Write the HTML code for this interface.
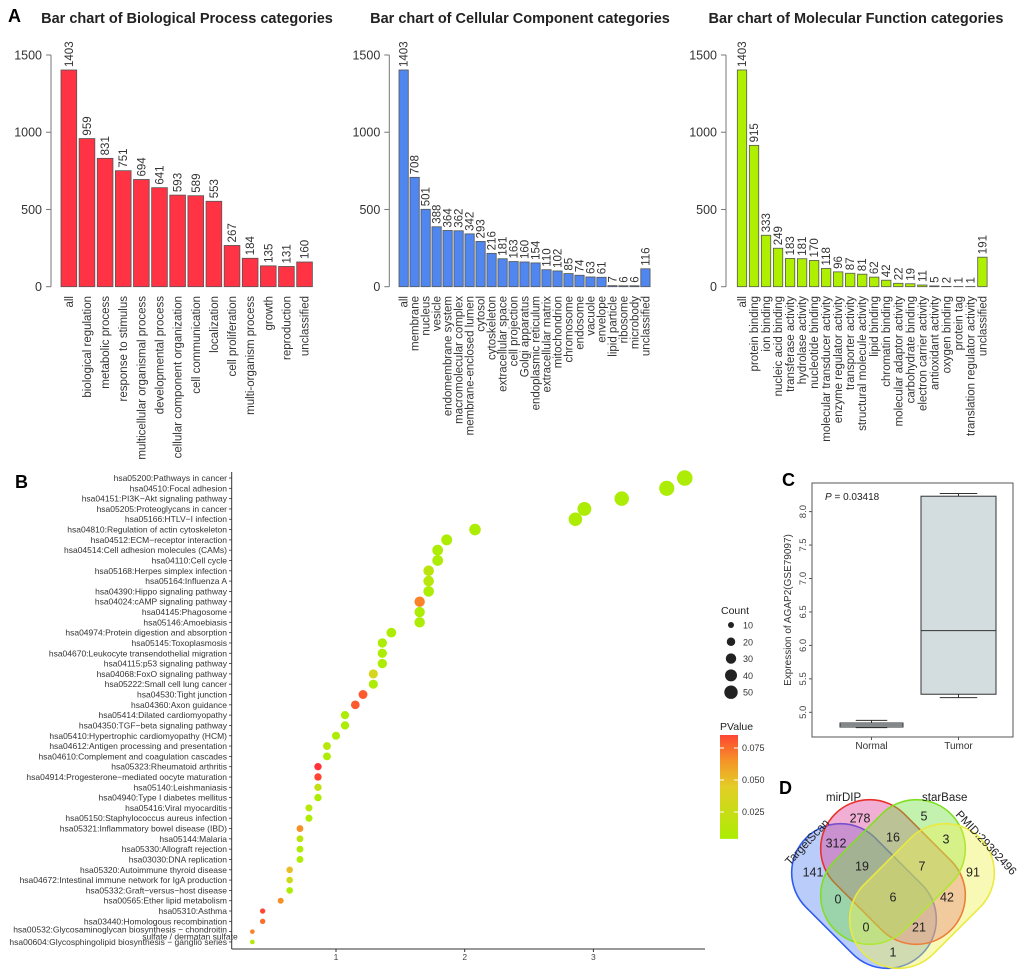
<!DOCTYPE html>
<html><head><meta charset="utf-8">
<style>
body{margin:0;background:#fff;}
svg{display:block;font-family:"Liberation Sans",Arial,sans-serif;}
</style></head>
<body>
<svg id="fig" width="1020" height="973" viewBox="0 0 1020 973" xmlns="http://www.w3.org/2000/svg">
<text x="8" y="22" font-size="18" font-weight="bold">A</text>
<text x="15" y="488" font-size="18" font-weight="bold">B</text>
<text x="782" y="486" font-size="18" font-weight="bold">C</text>
<text x="779" y="794" font-size="18" font-weight="bold">D</text>
<g id="gA"></g><g id="gB"></g><g id="gC"></g><g id="gD"></g>
</svg>
<script>
// ---------- Panel A data ----------
const bpLabels = ["all","biological regulation","metabolic process","response to stimulus","multicellular organismal process","developmental process","cellular component organization","cell communication","localization","cell proliferation","multi-organism process","growth","reproduction","unclassified"];
const bpValues = [1403,959,831,751,694,641,593,589,553,267,184,135,131,160];
const ccLabels = ["all","membrane","nucleus","vesicle","endomembrane system","macromolecular complex","membrane-enclosed lumen","cytosol","cytoskeleton","extracellular space","cell projection","Golgi apparatus","endoplasmic reticulum","extracellular matrix","mitochondrion","chromosome","endosome","vacuole","envelope","lipid particle","ribosome","microbody","unclassified"];
const ccValues = [1403,708,501,388,364,362,342,293,216,181,163,160,154,110,102,85,74,63,61,7,6,6,116];
const mfLabels = ["all","protein binding","ion binding","nucleic acid binding","transferase activity","hydrolase activity","nucleotide binding","molecular transducer activity","enzyme regulator activity","transporter activity","structural molecule activity","lipid binding","chromatin binding","molecular adaptor activity","carbohydrate binding","electron carrier activity","antioxidant activity","oxygen binding","protein tag","translation regulator activity","unclassified"];
const mfValues = [1403,915,333,249,183,181,170,118,96,87,81,62,42,22,19,11,5,2,1,1,191];
const barTicks = [0,500,1000,1500];

// ---------- Panel B data ----------
const keggTerms = ["hsa05200:Pathways in cancer","hsa04510:Focal adhesion","hsa04151:PI3K\u2212Akt signaling pathway","hsa05205:Proteoglycans in cancer","hsa05166:HTLV\u2212I infection","hsa04810:Regulation of actin cytoskeleton","hsa04512:ECM\u2212receptor interaction","hsa04514:Cell adhesion molecules (CAMs)","hsa04110:Cell cycle","hsa05168:Herpes simplex infection","hsa05164:Influenza A","hsa04390:Hippo signaling pathway","hsa04024:cAMP signaling pathway","hsa04145:Phagosome","hsa05146:Amoebiasis","hsa04974:Protein digestion and absorption","hsa05145:Toxoplasmosis","hsa04670:Leukocyte transendothelial migration","hsa04115:p53 signaling pathway","hsa04068:FoxO signaling pathway","hsa05222:Small cell lung cancer","hsa04530:Tight junction","hsa04360:Axon guidance","hsa05414:Dilated cardiomyopathy","hsa04350:TGF\u2212beta signaling pathway","hsa05410:Hypertrophic cardiomyopathy (HCM)","hsa04612:Antigen processing and presentation","hsa04610:Complement and coagulation cascades","hsa05323:Rheumatoid arthritis","hsa04914:Progesterone\u2212mediated oocyte maturation","hsa05140:Leishmaniasis","hsa04940:Type I diabetes mellitus","hsa05416:Viral myocarditis","hsa05150:Staphylococcus aureus infection","hsa05321:Inflammatory bowel disease (IBD)","hsa05144:Malaria","hsa05330:Allograft rejection","hsa03030:DNA replication","hsa05320:Autoimmune thyroid disease","hsa04672:Intestinal immune network for IgA production","hsa05332:Graft\u2212versus\u2212host disease","hsa00565:Ether lipid metabolism","hsa05310:Asthma","hsa03440:Homologous recombination","hsa00532:Glycosaminoglycan biosynthesis \u2212 chondroitin|sulfate / dermatan sulfate","hsa00604:Glycosphingolipid biosynthesis \u2212 ganglio series"];
const keggX = [3.71,3.57,3.22,2.93,2.86,2.08,1.86,1.79,1.79,1.72,1.72,1.72,1.65,1.65,1.65,1.43,1.36,1.36,1.36,1.29,1.29,1.21,1.15,1.07,1.07,1.00,0.93,0.93,0.86,0.86,0.86,0.86,0.79,0.79,0.72,0.72,0.72,0.72,0.64,0.64,0.64,0.57,0.43,0.43,0.35,0.35];
const keggCount = [67,64,58,53,51,37,33,32,32,31,31,31,30,30,30,26,24,24,24,23,23,22,21,19,19,18,17,17,15,15,15,15,14,14,13,13,13,13,12,12,12,10,8,8,6,6];
const keggP = [0.005,0.005,0.005,0.005,0.005,0.005,0.005,0.005,0.005,0.015,0.012,0.005,0.07,0.005,0.005,0.005,0.005,0.005,0.005,0.035,0.005,0.08,0.08,0.005,0.005,0.005,0.012,0.005,0.09,0.085,0.02,0.005,0.012,0.005,0.065,0.015,0.005,0.005,0.05,0.03,0.005,0.065,0.085,0.075,0.07,0.008];
const keggXTicks = [1,2,3];
const countLegend = [10,20,30,40,50];
const pLegend = [0.075,0.050,0.025];

// ---------- Panel C data ----------
const boxGroups = ["Normal","Tumor"];
const boxLow = [4.77,5.22];
const boxQ1 = [4.78,5.27];
const boxMed = [4.81,6.22];
const boxQ3 = [4.84,8.23];
const boxHigh = [4.88,8.27];
const boxTicks = [5.0,5.5,6.0,6.5,7.0,7.5,8.0];

// ---------- Panel D data ----------
const vennSets = ["TargetScan","mirDIP","starBase","PMID:29362496"];
const vennCounts = [278,5,312,16,3,141,19,7,91,0,6,42,0,21,1];

const NS = "http://www.w3.org/2000/svg";
function mk(parent, tag, attrs, text){
  const e = document.createElementNS(NS, tag);
  for (const k in attrs) e.setAttribute(k, attrs[k]);
  if (text !== undefined) e.textContent = text;
  parent.appendChild(e);
  return e;
}

// ---------- Panel A ----------
const gA = document.getElementById('gA');
function barChart(name, labels, values, axisX, firstX, pitch, bw, color, title, titleX){
  const g = mk(gA, 'g', {});
  
  
  const y0 = 286.7, y1500 = 55;
  const y = v => y0 - v * (y0 - y1500) / 1500;
  const t = mk(g, 'text', {x:titleX, y:23, 'font-size':14.5, 'font-weight':'bold', 'text-anchor':'middle', fill:'#222'}, title);
  
  
  const ax = mk(g, 'line', {x1:axisX, x2:axisX, y1:y(0), y2:y(1500), stroke:'#777', 'stroke-width':1});
  
  
  barTicks.forEach(v => {
    mk(g, 'line', {x1:axisX-5, x2:axisX, y1:y(v), y2:y(v), stroke:'#777'});
    const tl = mk(g, 'text', {x:axisX-9, y:y(v)+4.5, 'font-size':12.5, 'text-anchor':'end', fill:'#333'}, String(v));
    
    
  });
  values.forEach((v, i) => {
    const x = firstX + i * pitch;
    const b = mk(g, 'rect', {x:x, y:y(v), width:bw, height:y(0)-y(v), fill:color, stroke:'#555', 'stroke-width':0.8});
    
    
    const cx = x + bw/2 + 4;
    const vl = mk(g, 'text', {transform:`translate(${cx},${y(v)-3}) rotate(-90)`, 'font-size':11.5, fill:'#333'}, String(v));
    
    
    const xl = mk(g, 'text', {transform:`translate(${cx},296) rotate(-90)`, 'font-size':11.5, 'text-anchor':'end', fill:'#333'}, labels[i]);
    
    
  });
}
barChart('bp-bar-chart', bpLabels, bpValues, 51, 61, 18.13, 15.7, '#ff3344', 'Bar chart of Biological Process categories', 187);
barChart('cc-bar-chart', ccLabels, ccValues, 389.3, 399, 10.99, 9.3, '#4f86f0', 'Bar chart of Cellular Component categories', 520);
barChart('mf-bar-chart', mfLabels, mfValues, 726, 737.3, 12.02, 9.4, '#aef000', 'Bar chart of Molecular Function categories', 856);

// ---------- Panel B ----------
const gB = document.getElementById('gB');


const bx = v => 207.3 + v * 128.7;
const rowY = i => 478 + i * 10.31;
const rOf = c => 0.95 * Math.sqrt(c);
function pColor(p){
  const stops = [[0,166,240,0],[0.045,228,205,40],[0.07,250,130,40],[0.09,255,50,55]];
  p = Math.max(0, Math.min(0.09, p));
  for (let k=0;k<stops.length-1;k++){
    const a=stops[k], b=stops[k+1];
    if (p<=b[0]){ const t=(p-a[0])/(b[0]-a[0]);
      return `rgb(${Math.round(a[1]+t*(b[1]-a[1]))},${Math.round(a[2]+t*(b[2]-a[2]))},${Math.round(a[3]+t*(b[3]-a[3]))})`; }
  }
  return 'rgb(255,50,55)';
}
mk(gB, 'line', {x1:231.7, x2:231.7, y1:472, y2:949, stroke:'#333', 'stroke-width':1});
mk(gB, 'line', {x1:231.7, x2:705, y1:949, y2:949, stroke:'#333', 'stroke-width':1});
keggXTicks.forEach(v => {
  mk(gB, 'line', {x1:bx(v), x2:bx(v), y1:949, y2:952, stroke:'#333'});
  const tl = mk(gB, 'text', {x:bx(v), y:960, 'font-size':8.5, 'text-anchor':'middle', fill:'#444'}, String(v));
  
  
});
keggTerms.forEach((term, i) => {
  const y = rowY(i);
  mk(gB, 'line', {x1:229, x2:231.7, y1:y, y2:y, stroke:'#333', 'stroke-width':0.8});
  const parts = term.split('|');
  if (parts.length === 1) {
    const tl = mk(gB, 'text', {x:227, y:y+3, 'font-size':8.5, 'text-anchor':'end', fill:'#333'}, term);
    
    
  } else {
    const tl = mk(gB, 'text', {x:227, y:y+1, 'font-size':8.5, 'text-anchor':'end', fill:'#333'}, parts[0]);
    
    
    const t2 = mk(gB, 'text', {x:190, y:y+8, 'font-size':8.5, 'text-anchor':'middle', fill:'#333'}, parts[1]);
    
    
  }
  const d = mk(gB, 'circle', {cx:bx(keggX[i]), cy:y, r:rOf(keggCount[i]), fill:pColor(keggP[i])});
  
  
});
// legends
const lc = mk(gB, 'text', {x:721, y:614, 'font-size':10.5, fill:'#222'}, 'Count');


countLegend.forEach((c, k) => {
  const y = 625 + k * 16.8;
  const ci = mk(gB, 'circle', {cx:731, cy:y, r:rOf(c), fill:'#222'});
  
  
  mk(gB, 'text', {x:743, y:y+3.5, 'font-size':9, fill:'#333'}, String(c));
});
const lp = mk(gB, 'text', {x:720, y:730, 'font-size':10.5, fill:'#222'}, 'PValue');


const defs = mk(gB, 'defs', {});
const lg = mk(defs, 'linearGradient', {id:'pg', x1:0, y1:0, x2:0, y2:1});
[[0,0.085],[0.25,0.064],[0.5,0.044],[0.75,0.024],[1,0.004]].forEach(s => mk(lg, 'stop', {offset:s[0], 'stop-color':pColor(s[1])}));
const py = p => 748 + (0.075 - p) / 0.025 * 32;
const bar = mk(gB, 'rect', {x:720, y:735, width:18, height:py(0.004)-735, fill:'url(#pg)'});


pLegend.forEach(p => {
  mk(gB, 'line', {x1:720, x2:724, y1:py(p), y2:py(p), stroke:'#fff'});
  mk(gB, 'line', {x1:734, x2:738, y1:py(p), y2:py(p), stroke:'#fff'});
  mk(gB, 'text', {x:742, y:py(p)+3, 'font-size':9, fill:'#333'}, p.toFixed(3));
});

// ---------- Panel C ----------
const gC = document.getElementById('gC');


const cy = v => 712.3 - (v - 5) * 66.9;
const groupX = [871.5, 958.5];
const boxW = [63, 75];
mk(gC, 'rect', {x:812, y:483, width:201, height:254, fill:'none', stroke:'#555', 'stroke-width':1});
boxTicks.forEach(v => {
  mk(gC, 'line', {x1:809, x2:812, y1:cy(v), y2:cy(v), stroke:'#555'});
  const tl = mk(gC, 'text', {transform:`translate(${806},${cy(v)}) rotate(-90)`, 'font-size':9.5, 'text-anchor':'middle', fill:'#444'}, v.toFixed(1));
  
  
});
const yl = mk(gC, 'text', {transform:'translate(791,610) rotate(-90)', 'font-size':10, 'text-anchor':'middle', fill:'#333'}, 'Expression of AGAP2(GSE79097)');


const pt = mk(gC, 'text', {x:825, y:500, 'font-size':10, fill:'#222'});
mk(pt, 'tspan', {'font-style':'italic'}, 'P');
mk(pt, 'tspan', {}, ' = 0.03418');


boxGroups.forEach((gname, i) => {
  const cx = groupX[i], w = boxW[i];
  mk(gC, 'line', {x1:cx, x2:cx, y1:cy(boxHigh[i]), y2:cy(boxQ3[i]), stroke:'#333'});
  mk(gC, 'line', {x1:cx, x2:cx, y1:cy(boxQ1[i]), y2:cy(boxLow[i]), stroke:'#333'});
  mk(gC, 'line', {x1:cx-w/4, x2:cx+w/4, y1:cy(boxHigh[i]), y2:cy(boxHigh[i]), stroke:'#333'});
  mk(gC, 'line', {x1:cx-w/4, x2:cx+w/4, y1:cy(boxLow[i]), y2:cy(boxLow[i]), stroke:'#333'});
  const b = mk(gC, 'rect', {x:cx-w/2, y:cy(boxQ3[i]), width:w, height:cy(boxQ1[i])-cy(boxQ3[i]), fill:'#d3dde0', stroke:'#333', 'stroke-width':1});
  
  
  mk(gC, 'line', {x1:cx-w/2, x2:cx+w/2, y1:cy(boxMed[i]), y2:cy(boxMed[i]), stroke:'#333', 'stroke-width':1});
  mk(gC, 'line', {x1:cx, x2:cx, y1:737, y2:740, stroke:'#555'});
  const xl = mk(gC, 'text', {x:cx, y:749, 'font-size':10, 'text-anchor':'middle', fill:'#333'}, gname);
  
  
});

// ---------- Panel D ----------
const gD = document.getElementById('gD');


const VL = 164, VW = 98;
const ell = [
  {cx:864, cy:896, rot:45, fill:'#5a85f0', stroke:'#2e5cf0'},
  {cx:893, cy:872, rot:45, fill:'#e0409a', stroke:'#e8302a'},
  {cx:893, cy:872, rot:-45, fill:'#70e040', stroke:'#80e020'},
  {cx:922, cy:896, rot:-45, fill:'#f0f050', stroke:'#eaea40'}
];
ell.forEach((e, k) => {
  const el = mk(gD, 'rect', {x:-VL/2, y:-VW/2, width:VL, height:VW, rx:VW/2, ry:VW/2, transform:`translate(${e.cx},${e.cy}) rotate(${e.rot})`, fill:e.fill, 'fill-opacity':0.42, stroke:e.stroke, 'stroke-width':1.6});
  
  
});
const vennPos = [[860,818],[924,816],[836,843],[893,837],[946,839],[813,872],[862,866],[922,866],[973,872],[838,899],[893,897],[947,897],[866,927],[919,927],[893,952]];
vennCounts.forEach((c, k) => {
  const t = mk(gD, 'text', {x:vennPos[k][0], y:vennPos[k][1]+4.5, 'font-size':12.5, 'text-anchor':'middle', fill:'#222'}, String(c));
  
  
});
const setLab = [
  {t:vennSets[0], tr:'translate(790,866) rotate(-47)'},
  {t:vennSets[1], tr:'translate(826,801)'},
  {t:vennSets[2], tr:'translate(922,801)'},
  {t:vennSets[3], tr:'translate(955,815) rotate(47)'}
];
setLab.forEach(s => {
  const t = mk(gD, 'text', {transform:s.tr, 'font-size':11.5, fill:'#222'}, s.t);
  
  
});
</script>
</body></html>
